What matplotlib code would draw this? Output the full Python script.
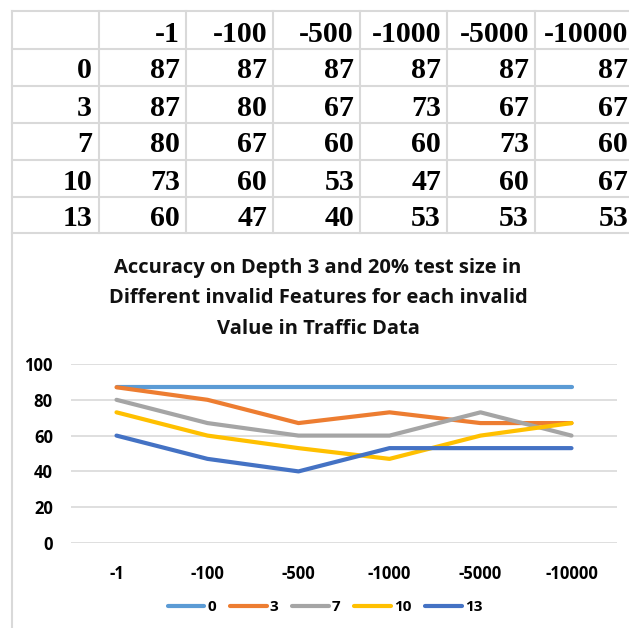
import matplotlib
matplotlib.use("Agg")
import matplotlib.pyplot as plt

# Accuracy for each invalid feature count (rows) and invalid value (columns)
invalid_values = ["-1", "-100", "-500", "-1000", "-5000", "-10000"]
feature_counts = ["0", "3", "7", "10", "13"]
acc_0 = [87, 87, 87, 87, 87, 87]
acc_3 = [87, 80, 67, 73, 67, 67]
acc_7 = [80, 67, 60, 60, 73, 60]
acc_10 = [73, 60, 53, 47, 60, 67]
acc_13 = [60, 47, 40, 53, 53, 53]
series = [acc_0, acc_3, acc_7, acc_10, acc_13]
colors = ["#5B9BD5", "#ED7D31", "#A5A5A5", "#FFC000", "#4472C4"]

W, H = 629, 628
fig = plt.figure(figsize=(W / 100, H / 100), dpi=100)

# background layer in pixel coordinates for the table
bg = fig.add_axes([0, 0, 1, 1])
bg.set_xlim(0, W)
bg.set_ylim(H, 0)
bg.axis("off")

grid_c = "#d9d9d9"
col_edges = [12, 99, 186, 273, 360, 447, 535, 634]
row_edges = [11, 49, 86, 123, 160, 197, 233]

for x in col_edges[1:-1]:
    bg.plot([x, x], [row_edges[0], row_edges[-1]], color=grid_c, lw=1.5)
bg.plot([col_edges[0], col_edges[0]], [row_edges[0], H], color=grid_c, lw=1.5)
for y in row_edges:
    bg.plot([col_edges[0], W], [y, y], color=grid_c, lw=1.5)

tfont = dict(family="Liberation Serif", fontweight="bold", fontsize=21.5,
             ha="right", va="baseline", color="black")
# header row
for j, lab in enumerate(invalid_values):
    bg.text(col_edges[j + 2] - 6, row_edges[1] - 7.5, lab, **tfont)
# body rows
for i, (feat, vals) in enumerate(zip(feature_counts, series)):
    yb = row_edges[i + 2] - 7.5
    bg.text(col_edges[1] - 7, yb, feat, **tfont)
    for j, v in enumerate(vals):
        bg.text(col_edges[j + 2] - 6, yb, str(v), **tfont)

# chart title
cfont = "Open Sans"
fig.text(318 / W, 1 - 298 / H,
         "Accuracy on Depth 3 and 20% test size in\n"
         "Different invalid Features for each invalid\n"
         "Value in Traffic Data",
         ha="center", va="center", fontsize=14.5, fontweight="bold",
         family=cfont, linespacing=1.7, color="#111111")

# line chart
ax = fig.add_axes([71 / W, 1 - 543 / H, (617 - 71) / W, (543 - 364) / H])
xs = range(len(invalid_values))
for feat, vals, c in zip(feature_counts, series, colors):
    ax.plot(xs, vals, color=c, lw=3, solid_capstyle="round", label=feat)

ax.set_xlim(-0.5, len(invalid_values) - 0.5)
ax.set_ylim(0, 100)
ax.set_yticks(range(0, 101, 20))
ax.set_xticks(list(xs))
ax.set_xticklabels(invalid_values)
ax.yaxis.grid(True, color=grid_c, lw=1.2)
ax.set_axisbelow(True)
for s in ax.spines.values():
    s.set_visible(False)
ax.tick_params(length=0, labelsize=12)
ax.tick_params(axis="y", pad=13)
ax.tick_params(axis="x", pad=16)
for lab in ax.get_xticklabels() + ax.get_yticklabels():
    lab.set_fontweight("bold")
    lab.set_family(cfont)

leg = fig.legend(loc="center", bbox_to_anchor=(325 / W, 1 - 607 / H), ncol=5,
                 frameon=False, handlelength=2.4, handletextpad=0.2,
                 columnspacing=0.9,
                 prop={"family": cfont, "weight": "bold", "size": 11})

fig.savefig("out.png", dpi=100)
